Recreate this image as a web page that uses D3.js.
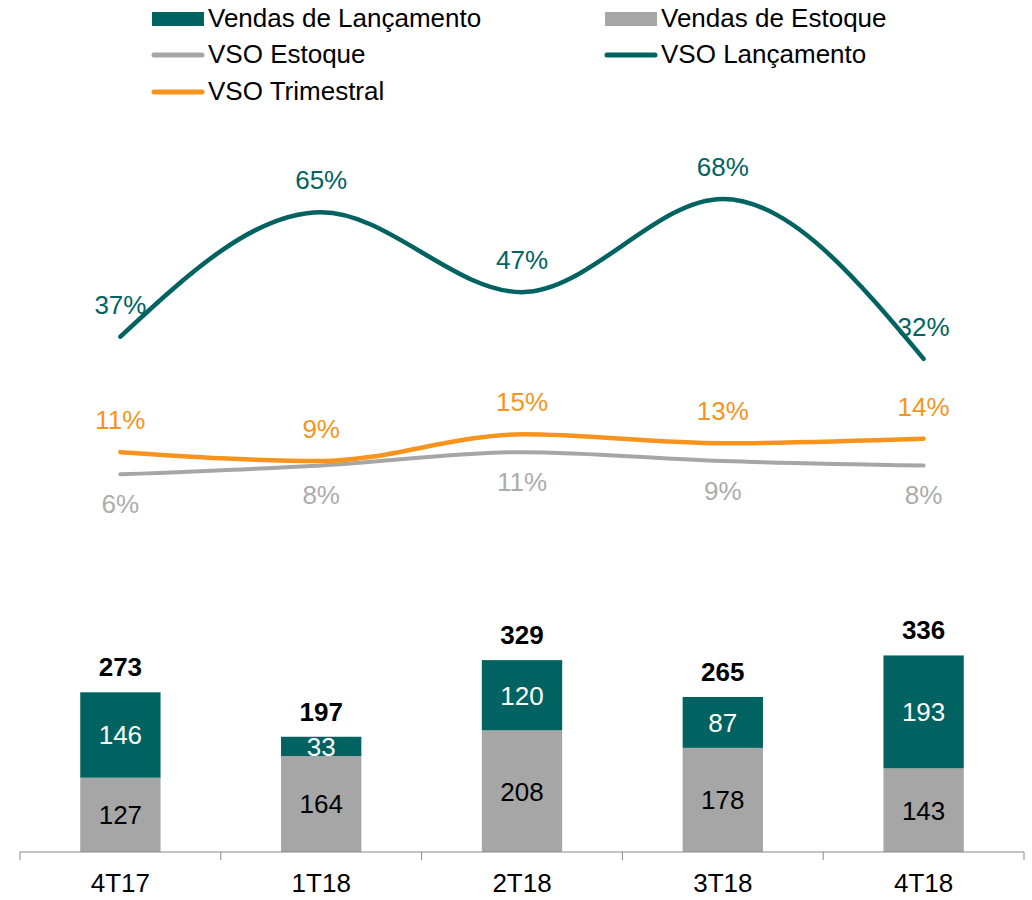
<!DOCTYPE html>
<html>
<head>
<meta charset="utf-8">
<script src="https://cdn.jsdelivr.net/npm/d3@7"></script>
<style>
  body { margin: 0; background: #fff; }
  text { font-family: "Liberation Sans", Arial, sans-serif; }
</style>
</head>
<body>
<div id="container"></div>
<script>
// data
const categories = ["4T17", "1T18", "2T18", "3T18", "4T18"];
const vendasEstoque = [127, 164, 208, 178, 143];
const vendasLancamento = [146, 33, 120, 87, 193];
const totais = [273, 197, 329, 265, 336];
const vsoLancamento = [37, 65, 47, 68, 32];
const vsoTrimestral = [11, 9, 15, 13, 14];
const vsoEstoque = [6, 8, 11, 9, 8];

const teal = "#006361";
const gray = "#a6a6a6";
const orange = "#f7941d";
const fontSize = 26;

const width = 1032, height = 900;

var svg = d3.select("#container").append("svg")
  .attr("width", width)
  .attr("height", height);

const xScale = d3.scaleBand()
  .domain(categories)
  .range([20, 1024])
  .padding(0);

const cx = (c) => xScale(c) + xScale.bandwidth() / 2;
const barW = xScale.bandwidth() * 0.4;

// bars
const yBar = d3.scaleLinear().domain([0, 400]).range([852, 618]);
// lines
const yLine = d3.scaleLinear().domain([0, 70]).range([501, 190]);

const rows = categories.map((c, i) => ({
  cat: c, est: vendasEstoque[i], lan: vendasLancamento[i], total: totais[i]
}));

const bars = svg.append("g").selectAll("g").data(rows).enter().append("g");

bars.append("rect")
  .attr("x", d => cx(d.cat) - barW / 2)
  .attr("y", d => yBar(d.est))
  .attr("width", barW)
  .attr("height", d => yBar(0) - yBar(d.est))
  .attr("fill", gray);

bars.append("rect")
  .attr("x", d => cx(d.cat) - barW / 2)
  .attr("y", d => yBar(d.est + d.lan))
  .attr("width", barW)
  .attr("height", d => yBar(d.est) - yBar(d.est + d.lan))
  .attr("fill", teal);

bars.append("text")
  .attr("x", d => cx(d.cat))
  .attr("y", d => (yBar(0) + yBar(d.est)) / 2)
  .attr("dy", "0.36em")
  .attr("text-anchor", "middle")
  .attr("font-size", fontSize)
  .attr("fill", "#000")
  .text(d => d.est);

bars.append("text")
  .attr("x", d => cx(d.cat))
  .attr("y", d => (yBar(d.est) + yBar(d.est + d.lan)) / 2)
  .attr("dy", "0.36em")
  .attr("text-anchor", "middle")
  .attr("font-size", fontSize)
  .attr("fill", "#fff")
  .text(d => d.lan);

bars.append("text")
  .attr("x", d => cx(d.cat))
  .attr("y", d => yBar(d.est + d.lan) - 16)
  .attr("text-anchor", "middle")
  .attr("font-size", fontSize)
  .attr("font-weight", "bold")
  .attr("fill", "#000")
  .text(d => d.total);

// x axis
const axis = svg.append("g")
  .attr("transform", "translate(0,852)")
  .call(d3.axisBottom(xScale).tickSize(0));
axis.select(".domain").attr("stroke", "#888").attr("d", "M20,8V0H1024V8");
axis.selectAll("text")
  .attr("y", 40)
  .attr("dy", 0)
  .attr("font-size", fontSize)
  .attr("font-family", "Liberation Sans, Arial, sans-serif")
  .attr("fill", "#000");
axis.selectAll(".sep")
  .data(categories.slice(1))
  .enter().append("line")
  .attr("class", "sep")
  .attr("x1", d => xScale(d)).attr("x2", d => xScale(d))
  .attr("y1", 0).attr("y2", 8)
  .attr("stroke", "#888");

// lines
const line = d3.line()
  .x((d, i) => cx(categories[i]))
  .y(d => yLine(d))
  .curve(d3.curveMonotoneX);

const series = [
  { values: vsoEstoque, color: gray, w: 4, labelColor: "#acacac", dy: 39 },
  { values: vsoTrimestral, color: orange, w: 4.5, labelColor: orange, dy: -23 },
  { values: vsoLancamento, color: teal, w: 4.5, labelColor: teal, dy: -23 }
];

series.forEach(s => {
  svg.append("path")
    .datum(s.values)
    .attr("d", line)
    .attr("fill", "none")
    .attr("stroke", s.color)
    .attr("stroke-width", s.w)
    .attr("stroke-linecap", "round");

  svg.append("g").selectAll("text")
    .data(s.values)
    .enter().append("text")
    .attr("x", (d, i) => cx(categories[i]))
    .attr("y", d => yLine(d) + s.dy)
    .attr("text-anchor", "middle")
    .attr("font-size", fontSize)
    .attr("fill", s.labelColor)
    .text(d => d + "%");
});

// legend
const legendItems = [
  { name: "Vendas de Lançamento", type: "rect", color: teal, x: 152, y: 19 },
  { name: "Vendas de Estoque", type: "rect", color: gray, x: 605, y: 19 },
  { name: "VSO Estoque", type: "line", color: gray, x: 152, y: 55 },
  { name: "VSO Lançamento", type: "line", color: teal, x: 605, y: 55 },
  { name: "VSO Trimestral", type: "line", color: orange, x: 152, y: 92 }
];

const legend = svg.append("g").selectAll("g").data(legendItems).enter().append("g")
  .attr("transform", d => `translate(${d.x},${d.y})`);

legend.filter(d => d.type === "rect").append("rect")
  .attr("x", 0).attr("y", -7).attr("width", 52).attr("height", 14)
  .attr("fill", d => d.color);

legend.filter(d => d.type === "line").append("line")
  .attr("x1", 2).attr("x2", 50).attr("y1", 0).attr("y2", 0)
  .attr("stroke", d => d.color)
  .attr("stroke-width", 5)
  .attr("stroke-linecap", "round");

legend.append("text")
  .attr("x", 56)
  .attr("y", 8)
  .attr("font-size", fontSize)
  .attr("fill", "#000")
  .text(d => d.name);
</script>
</body>
</html>
